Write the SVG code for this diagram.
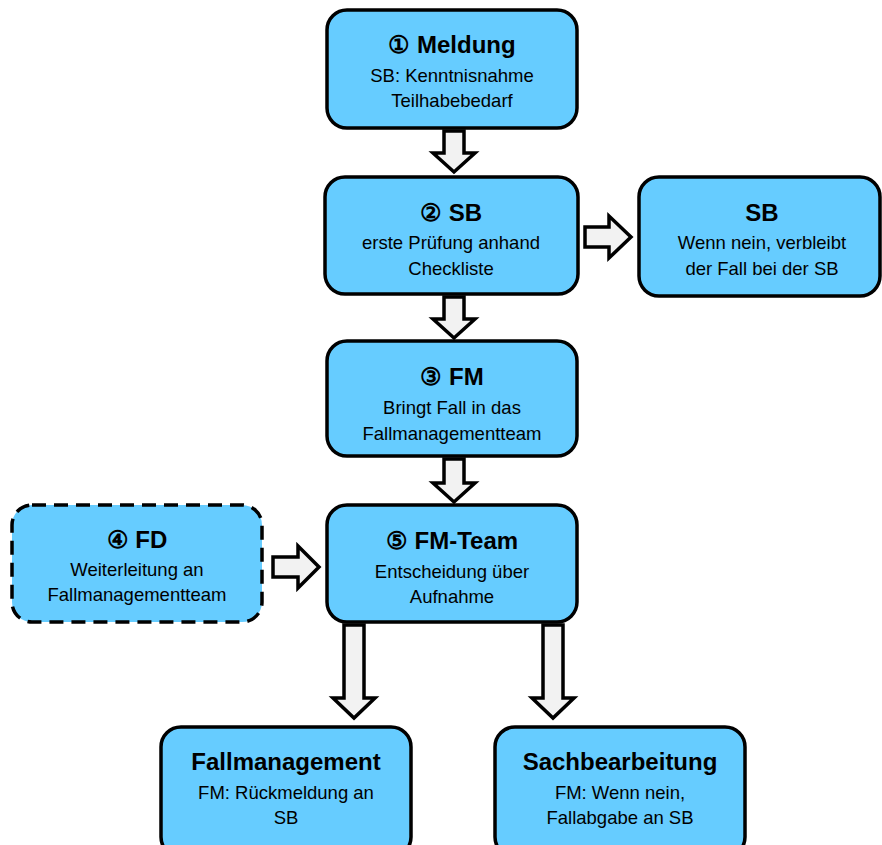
<svg xmlns="http://www.w3.org/2000/svg" width="882" height="845" viewBox="0 0 882 845">
<style>
.box{fill:#66CCFF;stroke:#000;stroke-width:3.5}
.dash{stroke-dasharray:14 8}
.arr{fill:#F2F2F2;stroke:#000;stroke-width:3.5;stroke-linejoin:miter}
text{font-family:"Liberation Sans",Arial,sans-serif;text-anchor:middle;fill:#000}
.t{font-size:24px;font-weight:bold}
.s{font-size:18.5px}
</style>
<rect width="882" height="845" fill="#fff"/>
<g id="connectors">
<polygon class="arr" points="444,131 464,131 464,153 475,153 454,172 433,153 444,153"/>
<polygon class="arr" points="444,297 464,297 464,319 475,319 454,338 433,319 444,319"/>
<polygon class="arr" points="444,459 464,459 464,483 475,483 454,502 433,483 444,483"/>
<polygon class="arr" points="585,227 609,227 609,216 631,237 609,258 609,247 585,247"/>
<polygon class="arr" points="273,557 298,557 298,546 319,567 298,588 298,577 273,577"/>
<polygon class="arr" points="344,625 364,625 364,698 375,698 354,718 333,698 344,698"/>
<polygon class="arr" points="543,625 563,625 563,698 574,698 553,718 532,698 543,698"/>
</g>
<g id="n1">
<rect class="box" x="327" y="10" width="250" height="118" rx="20"/>
<text class="t" x="452" y="53">① Meldung</text>
<text class="s" x="452" y="82">SB: Kenntnisnahme</text>
<text class="s" x="452" y="107">Teilhabebedarf</text>
</g>
<g id="n2">
<rect class="box" x="325" y="177" width="253" height="117" rx="20"/>
<text class="t" x="451" y="221">② SB</text>
<text class="s" x="451" y="249">erste Prüfung anhand</text>
<text class="s" x="451" y="275">Checkliste</text>
</g>
<g id="n2b">
<rect class="box" x="639" y="177" width="241" height="119" rx="20"/>
<text class="t" x="762" y="221">SB</text>
<text class="s" x="762" y="249">Wenn nein, verbleibt</text>
<text class="s" x="762" y="275">der Fall bei der SB</text>
</g>
<g id="n3">
<rect class="box" x="327" y="341" width="250" height="115" rx="20"/>
<text class="t" x="452" y="385">③ FM</text>
<text class="s" x="452" y="414">Bringt Fall in das</text>
<text class="s" x="452" y="440">Fallmanagementteam</text>
</g>
<g id="n4">
<rect class="box dash" x="12" y="505" width="250" height="117" rx="20"/>
<text class="t" x="137" y="548">④ FD</text>
<text class="s" x="137" y="576">Weiterleitung an</text>
<text class="s" x="137" y="601">Fallmanagementteam</text>
</g>
<g id="n5">
<rect class="box" x="327" y="505" width="250" height="117" rx="20"/>
<text class="t" x="452" y="549">⑤ FM-Team</text>
<text class="s" x="452" y="578">Entscheidung über</text>
<text class="s" x="452" y="603">Aufnahme</text>
</g>
<g id="n6">
<rect class="box" x="161" y="727" width="250" height="130" rx="20"/>
<text class="t" x="286" y="770">Fallmanagement</text>
<text class="s" x="286" y="799">FM: Rückmeldung an</text>
<text class="s" x="286" y="824">SB</text>
</g>
<g id="n7">
<rect class="box" x="495" y="727" width="250" height="130" rx="20"/>
<text class="t" x="620" y="770">Sachbearbeitung</text>
<text class="s" x="620" y="799">FM: Wenn nein,</text>
<text class="s" x="620" y="824">Fallabgabe an SB</text>
</g>
</svg>
